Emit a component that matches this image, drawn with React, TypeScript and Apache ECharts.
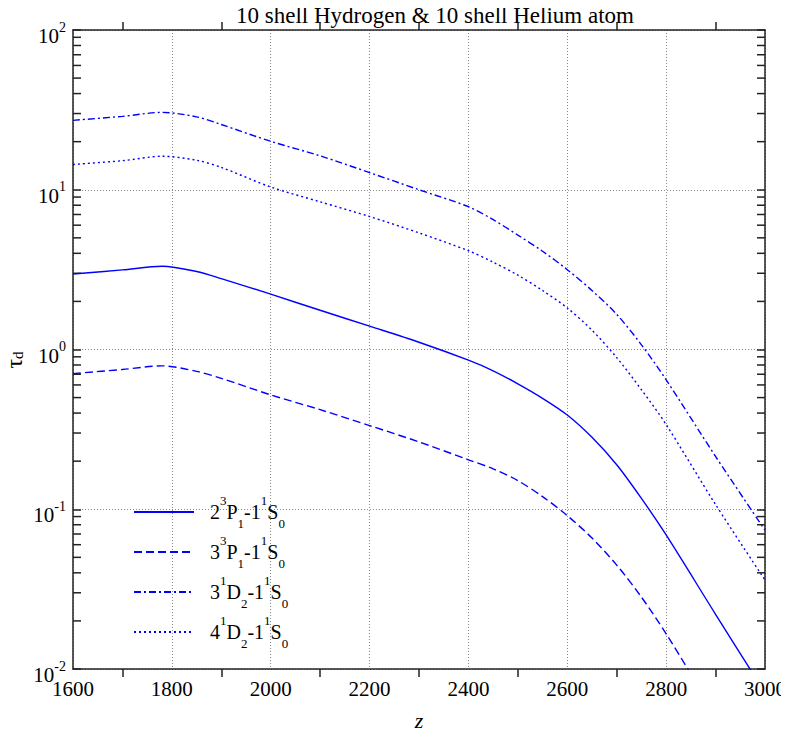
import React, { useEffect, useRef } from "react";
import * as echarts from "echarts";

const zValues = [1600, 1700, 1780, 1850, 1900, 2000, 2100, 2200, 2300, 2400, 2450, 2500, 2550, 2600, 2650, 2700, 2750, 2800, 2900, 3000];
const tau3D = [27.2, 28.8, 30.5, 28.6, 25.6, 20.1, 16.3, 12.8, 10.0, 7.83, 6.5, 5.2, 4.12, 3.16, 2.34, 1.66, 1.07, 0.646, 0.214, 0.074];
const tau4D = [14.4, 15.2, 16.2, 15.3, 13.8, 10.4, 8.4, 6.8, 5.37, 4.15, 3.52, 2.92, 2.34, 1.82, 1.32, 0.89, 0.56, 0.339, 0.107, 0.036];
const tau2P = [2.97, 3.15, 3.32, 3.08, 2.78, 2.22, 1.76, 1.4, 1.11, 0.857, 0.736, 0.61, 0.495, 0.389, 0.282, 0.19, 0.117, 0.069, 0.022, 0.0071];
const tau3P = [0.706, 0.75, 0.79, 0.73, 0.66, 0.52, 0.42, 0.334, 0.264, 0.204, 0.179, 0.151, 0.12, 0.0912, 0.066, 0.0447, 0.0282, 0.0166, 0.0052, 0.00166];

const seriesNames = ["2^3P1-1^1S0", "3^3P1-1^1S0", "3^1D2-1^1S0", "4^1D2-1^1S0"];
const legendRich = [
  "{n|2}{sup|3}{n|P}{sub|1}{n|-1}{sup|1}{n|S}{sub|0}",
  "{n|3}{sup|3}{n|P}{sub|1}{n|-1}{sup|1}{n|S}{sub|0}",
  "{n|3}{sup|1}{n|D}{sub|2}{n|-1}{sup|1}{n|S}{sub|0}",
  "{n|4}{sup|1}{n|D}{sub|2}{n|-1}{sup|1}{n|S}{sub|0}",
];
const decadeExponents = [-2, -1, 0, 1];
const minorMultipliers = [2, 3, 4, 5, 6, 7, 8, 9];

const SERIF = "'Liberation Serif', 'DejaVu Serif', serif";
const BLUE = "#0000ff";
const AXIS = "#222";

export default function App() {
  const ref = useRef<HTMLDivElement>(null);
  useEffect(() => {
    if (!ref.current) return;
    const chart = echarts.init(ref.current, undefined, { renderer: "svg" });
    const minorTicks: number[][] = [];
    decadeExponents.forEach((e) => minorMultipliers.forEach((m) => minorTicks.push([1600, m * Math.pow(10, e)])));

    const mk = (i: number, values: number[], type: any, width: number) => ({
      name: seriesNames[i],
      type: "line",
      data: zValues.map((z, k) => [z, values[k]]),
      showSymbol: false,
      symbol: "none",
      smooth: 0.3,
      lineStyle: { color: BLUE, width, type },
      itemStyle: { color: BLUE },
      xAxisIndex: 0,
      yAxisIndex: 0,
    });

    const option: any = {
      animation: false,
      backgroundColor: "#fff",
      title: {
        text: "10 shell Hydrogen & 10 shell Helium atom",
        left: 236,
        top: 4,
        padding: 0,
        textStyle: { fontFamily: SERIF, fontSize: 23, fontWeight: "normal", color: "#000" },
      },
      grid: { left: 73, right: 24, top: 30, bottom: 54, containLabel: false },
      legend: {
        orient: "vertical",
        left: 133,
        top: 494,
        padding: 0,
        itemWidth: 60,
        itemHeight: 16,
        itemGap: 4,
        data: seriesNames,
        itemStyle: { opacity: 0 },
        formatter: (name: string) => legendRich[seriesNames.indexOf(name)],
        textStyle: {
          padding: [0, 0, 0, 11],
          rich: {
            n: { fontFamily: SERIF, fontSize: 20, color: "#000", lineHeight: 36, verticalAlign: "middle" },
            sup: { fontFamily: SERIF, fontSize: 13, color: "#000", lineHeight: 14, verticalAlign: "top" },
            sub: { fontFamily: SERIF, fontSize: 13, color: "#000", lineHeight: 14, verticalAlign: "bottom" },
          },
        },
      },
      xAxis: [
        {
          type: "value",
          min: 1600,
          max: 3000,
          interval: 200,
          position: "bottom",
          name: "z",
          nameLocation: "middle",
          nameGap: 40,
          nameTextStyle: { fontFamily: SERIF, fontSize: 22, fontStyle: "italic", color: "#000" },
          axisLine: { show: true, onZero: false, lineStyle: { color: AXIS, width: 1.5 } },
          axisTick: { show: false },
          minorTick: { show: true, splitNumber: 2, length: 8, lineStyle: { color: AXIS, width: 1.5 } },
          axisLabel: {
            inside: false,
            margin: 9,
            fontFamily: SERIF,
            fontSize: 21,
            color: "#000",
            formatter: (v: number) => String(v),
          },
          splitLine: { show: true, lineStyle: { color: "#888", type: [1, 2], width: 1 } },
        },
        {
          type: "value",
          min: 1600,
          max: 3000,
          interval: 200,
          position: "top",
          axisLine: { show: true, onZero: false, lineStyle: { color: AXIS, width: 1.5 } },
          axisTick: { show: false },
          minorTick: { show: true, splitNumber: 2, length: 8, lineStyle: { color: AXIS, width: 1.5 } },
          axisLabel: { show: false },
          splitLine: { show: false },
        },
      ],
      yAxis: [
        {
          type: "log",
          logBase: 10,
          min: 0.01,
          max: 100,
          position: "left",
          axisLine: { show: true, onZero: false, lineStyle: { color: AXIS, width: 1.5 } },
          axisTick: { show: true, inside: true, length: 8, lineStyle: { color: AXIS, width: 1.5 } },
          axisLabel: {
            margin: 7,
            padding: [12, 0, 0, 0],
            formatter: (v: number) => {
              const e = Math.round(Math.log10(v));
              return "{n|10}{sup|" + e + "}";
            },
            rich: {
              n: { fontFamily: SERIF, fontSize: 21, color: "#000", lineHeight: 32, verticalAlign: "middle" },
              sup: { fontFamily: SERIF, fontSize: 14, color: "#000", lineHeight: 14, verticalAlign: "top" },
            },
          },
          splitLine: { show: true, lineStyle: { color: "#888", type: [1, 2], width: 1 } },
        },
        {
          type: "log",
          logBase: 10,
          min: 0.01,
          max: 100,
          position: "right",
          axisLine: { show: true, onZero: false, lineStyle: { color: AXIS, width: 1.5 } },
          axisTick: { show: true, inside: true, length: 8, lineStyle: { color: AXIS, width: 1.5 } },
          axisLabel: { show: false },
          splitLine: { show: false },
        },
      ],
      graphic: [
        {
          type: "text",
          x: 14,
          y: 360,
          rotation: Math.PI / 2,
          style: {
            text: "{t|τ}{s|d}",
            align: "center",
            verticalAlign: "middle",
            rich: {
              t: { fontFamily: SERIF, fontSize: 24, fill: "#000", lineHeight: 22, verticalAlign: "middle" },
              s: { fontFamily: SERIF, fontSize: 15, fill: "#000", lineHeight: 12, verticalAlign: "bottom" },
            },
          },
        },
      ],
      series: [
        mk(0, tau2P, "solid", 1.4),
        mk(1, tau3P, [8, 4], 1.4),
        mk(2, tau3D, [7, 3, 2, 3], 1.4),
        mk(3, tau4D, [2, 3], 1.4),
        {
          type: "custom",
          name: "minorTicks",
          xAxisIndex: 0,
          yAxisIndex: 0,
          data: minorTicks,
          encode: { x: 0, y: 1 },
          silent: true,
          clip: false,
          renderItem: (params: any, api: any) => {
            const v = api.value(1);
            const pL = api.coord([1600, v]);
            const pR = api.coord([3000, v]);
            const st = { stroke: AXIS, lineWidth: 1.5 };
            return {
              type: "group",
              children: [
                { type: "line", shape: { x1: pL[0], y1: pL[1], x2: pL[0] + 8, y2: pL[1] }, style: st },
                { type: "line", shape: { x1: pR[0] - 8, y1: pR[1], x2: pR[0], y2: pR[1] }, style: st },
              ],
            };
          },
        },
      ],
    };
    chart.setOption(option);
    return () => chart.dispose();
  }, []);
  return <div ref={ref} style={{ width: 789, height: 736, margin: -8 }} />;
}
